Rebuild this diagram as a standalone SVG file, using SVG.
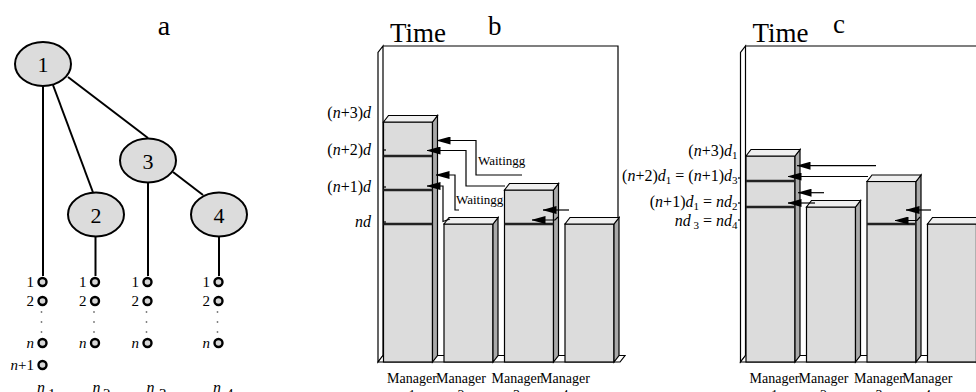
<svg xmlns="http://www.w3.org/2000/svg" width="976" height="392" viewBox="0 0 976 392">
<defs>
<style>
text{font-family:"Liberation Serif","Times New Roman",serif;fill:#000}
.i{font-style:italic}
.node{fill:#dcdcdc;stroke:#000;stroke-width:2}
.nl{font-size:22px;text-anchor:middle}
.edge{stroke:#000;stroke-width:2;fill:none}
.pt{fill:#d8d8d8;stroke:#000;stroke-width:2.4}
.pl{font-size:15px;text-anchor:end}
.dot{fill:#777}
.front{fill:#dcdcdc;stroke:#000;stroke-width:1.2}
.side{fill:#a9a9a9;stroke:#000;stroke-width:1.2}
.top{fill:#efefef;stroke:#000;stroke-width:1.2}
.div{stroke:#222;stroke-width:2.5}
.wall{fill:#fff;stroke:#000;stroke-width:1.2}
.floor{fill:#fff;stroke:#000;stroke-width:1.2}
.frame{fill:none;stroke:#000;stroke-width:1.2}
.tick{stroke:#000;stroke-width:1.2}
.arr{fill:none;stroke:#000;stroke-width:1.2;marker-end:url(#ah)}
.lab{font-size:16px;text-anchor:end}
.mgr{font-size:14px;text-anchor:middle}
.wt{font-size:13px}
.title{font-size:27px}
</style>
<marker id="ah" markerWidth="14" markerHeight="8" refX="13.5" refY="4" orient="auto" markerUnits="userSpaceOnUse">
<path d="M0,0 L14,4 L0,8 z" fill="#000"/>
</marker>
</defs>

<!-- Part a -->
<g id="part-a">
<text x="164" y="35" font-size="28" text-anchor="middle">a</text>
<g id="tree-edges">
<path class="edge" d="M43 86 V276"/>
<path class="edge" d="M53 85 L93 192.5"/>
<path class="edge" d="M68 77 L148 138"/>
<path class="edge" d="M148 183 V276"/>
<path class="edge" d="M173 172 L203 195"/>
<path class="edge" d="M95.5 236.5 V276"/>
<path class="edge" d="M219 236.5 V276"/>
</g>
<g id="node1"><ellipse class="node" cx="43" cy="64" rx="28" ry="22"/><text class="nl" x="43" y="72">1</text></g>
<g id="node2"><ellipse class="node" cx="96" cy="214.5" rx="28" ry="22"/><text class="nl" x="96" y="222.5">2</text></g>
<g id="node3"><ellipse class="node" cx="148" cy="160.5" rx="28" ry="22"/><text class="nl" x="148" y="168.5">3</text></g>
<g id="node4"><ellipse class="node" cx="219" cy="214.5" rx="28" ry="22"/><text class="nl" x="219" y="222.5">4</text></g>

<g id="col1">
<circle class="pt" cx="42.5" cy="282" r="4"/><text class="pl" x="34" y="287">1</text>
<circle class="pt" cx="42.5" cy="301" r="4"/><text class="pl" x="34" y="306">2</text>
<circle class="dot" cx="41.5" cy="312" r="0.9"/><circle class="dot" cx="41.5" cy="322" r="0.9"/><circle class="dot" cx="41.5" cy="332" r="0.9"/>
<circle class="pt" cx="42.5" cy="343" r="4"/><text class="pl i" x="34" y="348">n</text>
<circle class="pt" cx="42.5" cy="365" r="4"/><text class="pl" x="34" y="370"><tspan class="i">n</tspan>+1</text>
<text font-size="16" x="37" y="392.5" class="i">n</text><text font-size="15" x="48" y="399">1</text>
</g>
<g id="col2">
<circle class="pt" cx="95" cy="282" r="4"/><text class="pl" x="86.5" y="287">1</text>
<circle class="pt" cx="95" cy="301" r="4"/><text class="pl" x="86.5" y="306">2</text>
<circle class="dot" cx="94" cy="312" r="0.9"/><circle class="dot" cx="94" cy="322" r="0.9"/><circle class="dot" cx="94" cy="332" r="0.9"/>
<circle class="pt" cx="95" cy="343" r="4"/><text class="pl i" x="86.5" y="348">n</text>
<text font-size="16" x="92.5" y="392.5" class="i">n</text><text font-size="15" x="103" y="399">2</text>
</g>
<g id="col3">
<circle class="pt" cx="147.5" cy="282" r="4"/><text class="pl" x="139" y="287">1</text>
<circle class="pt" cx="147.5" cy="301" r="4"/><text class="pl" x="139" y="306">2</text>
<circle class="dot" cx="146.5" cy="312" r="0.9"/><circle class="dot" cx="146.5" cy="322" r="0.9"/><circle class="dot" cx="146.5" cy="332" r="0.9"/>
<circle class="pt" cx="147.5" cy="343" r="4"/><text class="pl i" x="139" y="348">n</text>
<text font-size="16" x="146.5" y="392.5" class="i">n</text><text font-size="15" x="159" y="399">3</text>
</g>
<g id="col4">
<circle class="pt" cx="218.5" cy="282" r="4"/><text class="pl" x="210" y="287">1</text>
<circle class="pt" cx="218.5" cy="301" r="4"/><text class="pl" x="210" y="306">2</text>
<circle class="dot" cx="217.5" cy="312" r="0.9"/><circle class="dot" cx="217.5" cy="322" r="0.9"/><circle class="dot" cx="217.5" cy="332" r="0.9"/>
<circle class="pt" cx="218.5" cy="343" r="4"/><text class="pl i" x="210" y="348">n</text>
<text font-size="16" x="213" y="392.5" class="i">n</text><text font-size="15" x="226" y="399">4</text>
</g>
</g>

<!-- Chart b -->
<g id="chart-b">
<text class="title" x="390" y="41.5">Time</text>
<text class="title" x="488" y="34.5">b</text>
<polygon class="wall" points="378,362 378,52.5 383,46 383,355.5"/>
<polyline class="frame" points="383,46 618,46 618,355.5"/>
<polygon class="floor" points="378,362 620,362 625,355.5 383,355.5"/>
<g id="b-bar1">
<rect class="front" x="383.5" y="122" width="49" height="240"/>
<polygon class="side" points="432.5,122 437.5,115.5 437.5,355.5 432.5,362"/>
<polygon class="top" points="383.5,122 388.5,115.5 437.5,115.5 432.5,122"/>
<line class="div" x1="383.5" y1="156" x2="432.5" y2="156"/>
<line class="div" x1="383.5" y1="190" x2="432.5" y2="190"/>
<line class="div" x1="383.5" y1="224" x2="432.5" y2="224"/>
</g>
<g id="b-bar2">
<rect class="front" x="444" y="224" width="49" height="138"/>
<polygon class="side" points="493,224 498,217.5 498,355.5 493,362"/>
<polygon class="top" points="444,224 449,217.5 498,217.5 493,224"/>
</g>
<g id="b-bar3">
<rect class="front" x="504.5" y="190" width="49" height="172"/>
<polygon class="side" points="553.5,190 558.5,183.5 558.5,355.5 553.5,362"/>
<polygon class="top" points="504.5,190 509.5,183.5 558.5,183.5 553.5,190"/>
<line class="div" x1="504.5" y1="224" x2="553.5" y2="224"/>
</g>
<g id="b-bar4">
<rect class="front" x="565" y="224" width="49" height="138"/>
<polygon class="side" points="614,224 619,217.5 619,355.5 614,362"/>
<polygon class="top" points="565,224 570,217.5 619,217.5 614,224"/>
</g>
<line class="tick" x1="383" y1="150" x2="386" y2="150"/>
<line class="tick" x1="383" y1="187" x2="386" y2="187"/>
<line class="tick" x1="383" y1="222" x2="386" y2="222"/>
<text class="lab" x="371" y="118">(<tspan class="i">n</tspan>+3)<tspan class="i">d</tspan></text>
<text class="lab" x="371" y="155">(<tspan class="i">n</tspan>+2)<tspan class="i">d</tspan></text>
<text class="lab" x="371" y="192">(<tspan class="i">n</tspan>+1)<tspan class="i">d</tspan></text>
<text class="lab i" x="371" y="226.5">nd</text>
<text class="wt" x="478" y="165">Waitingg</text>
<text class="wt" x="456" y="203.5">Waitingg</text>
<text class="mgr" x="412" y="383">Manager</text><text class="mgr" x="412" y="400">1</text>
<text class="mgr" x="461" y="383">Manager</text><text class="mgr" x="461" y="400">2</text>
<text class="mgr" x="516.5" y="383">Manager</text><text class="mgr" x="516.5" y="400">3</text>
<text class="mgr" x="565" y="383">Manager</text><text class="mgr" x="565" y="400">4</text>
</g>

<!-- Chart c -->
<g id="chart-c">
<text class="title" x="752.5" y="41.5">Time</text>
<text class="title" x="833" y="33">c</text>
<polygon class="wall" points="740.5,362 740.5,52.5 745.5,46 745.5,355.5"/>
<polyline class="frame" points="745.5,46 990,46"/>
<polygon class="floor" points="740.5,362 990,362 990,355.5 745.5,355.5"/>
<g id="c-bar1">
<rect class="front" x="746" y="156" width="49" height="206"/>
<polygon class="side" points="795,156 800,149.5 800,355.5 795,362"/>
<polygon class="top" points="746,156 751,149.5 800,149.5 795,156"/>
<line class="div" x1="746" y1="181" x2="795" y2="181"/>
<line class="div" x1="746" y1="207" x2="795" y2="207"/>
</g>
<g id="c-bar2">
<rect class="front" x="806.5" y="207" width="49" height="155"/>
<polygon class="side" points="855.5,207 860.5,200.5 860.5,355.5 855.5,362"/>
<polygon class="top" points="806.5,207 811.5,200.5 860.5,200.5 855.5,207"/>
</g>
<g id="c-bar3">
<rect class="front" x="867" y="181.5" width="49" height="180.5"/>
<polygon class="side" points="916,181.5 921,175 921,355.5 916,362"/>
<polygon class="top" points="867,181.5 872,175 921,175 916,181.5"/>
<line class="div" x1="867" y1="224" x2="916" y2="224"/>
</g>
<g id="c-bar4">
<rect class="front" x="927.5" y="224" width="49" height="138"/>
<polygon class="side" points="976.5,224 981.5,217.5 981.5,355.5 976.5,362"/>
<polygon class="top" points="927.5,224 932.5,217.5 981.5,217.5 976.5,224"/>
</g>
<line class="tick" x1="738" y1="178" x2="741" y2="178"/>
<line class="tick" x1="738" y1="203" x2="741" y2="203"/>
<line class="tick" x1="738" y1="220" x2="741" y2="220"/>
<text class="lab" x="737.5" y="155.5">(<tspan class="i">n</tspan>+3)<tspan class="i">d</tspan><tspan font-size="11" dy="3">1</tspan></text>
<text class="lab" x="737.5" y="180.5">(<tspan class="i">n</tspan>+2)<tspan class="i">d</tspan><tspan font-size="11" dy="3">1</tspan><tspan dy="-3"> = (</tspan><tspan class="i">n</tspan>+1)<tspan class="i">d</tspan><tspan font-size="11" dy="3">3</tspan></text>
<text class="lab" x="737.5" y="206.5">(<tspan class="i">n</tspan>+1)<tspan class="i">d</tspan><tspan font-size="11" dy="3">1</tspan><tspan dy="-3"> = </tspan><tspan class="i">nd</tspan><tspan font-size="11" dy="3">2</tspan></text>
<text class="lab" x="737.5" y="226"><tspan class="i">nd</tspan><tspan font-size="11" dy="3"> 3</tspan><tspan dy="-3"> = </tspan><tspan class="i">nd</tspan><tspan font-size="11" dy="3">4</tspan></text>
<text class="mgr" x="774.5" y="383">Manager</text><text class="mgr" x="774.5" y="400">1</text>
<text class="mgr" x="823.5" y="383">Manager</text><text class="mgr" x="823.5" y="400">2</text>
<text class="mgr" x="879" y="383">Manager</text><text class="mgr" x="879" y="400">3</text>
<text class="mgr" x="927.5" y="383">Manager</text><text class="mgr" x="927.5" y="400">4</text>
</g>

<!-- Connectors -->
<g id="connectors">
<path class="arr" d="M522 175 H476 V140.5 H437"/>
<path class="arr" d="M505 186 H466 V150.5 H427"/>
<path class="arr" d="M459 210 H455 V175 H436"/>
<path class="arr" d="M450 219 L443 221.5 V186 H427"/>
<path class="arr" d="M569 210 H543"/>
<path class="arr" d="M558 217 L555 220 H532"/>
<path class="arr" d="M876 165.7 H797"/>
<path class="arr" d="M868 176.5 H788"/>
<path class="arr" d="M824 192.7 H798"/>
<path class="arr" d="M815 203 H788"/>
<path class="arr" d="M931 210 H906"/>
<path class="arr" d="M920 217 L917 220.5 H895"/>
</g>
</svg>
